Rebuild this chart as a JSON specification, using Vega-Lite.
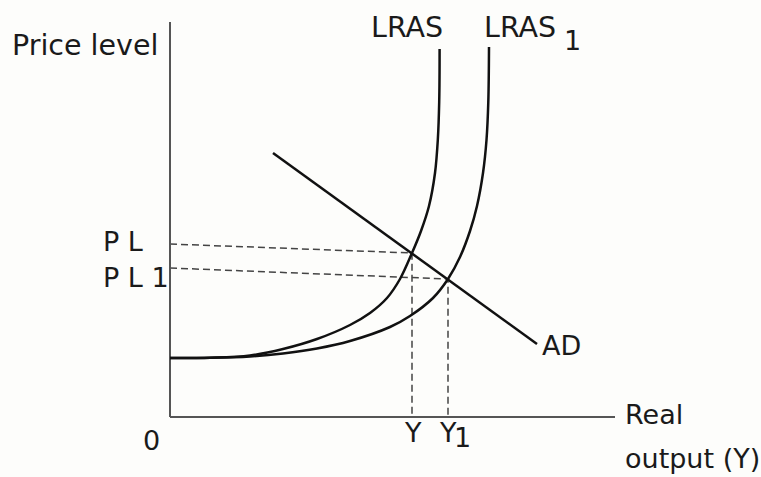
{
  "$schema": "https://vega.github.io/schema/vega-lite/v6.json",
  "width": 761,
  "height": 477,
  "autosize": {"type": "fit", "contains": "padding"},
  "padding": 0,
  "background": "#fdfdfb",
  "config": {"view": {"stroke": null}},
  "datasets": {
    "lines": [
      {"series": "yaxis", "ord": 0, "x": 0, "y": 0},
      {"series": "yaxis", "ord": 1, "x": 0, "y": 395},
      {"series": "xaxis", "ord": 0, "x": 0, "y": 0},
      {"series": "xaxis", "ord": 1, "x": 445, "y": 0},
      {"series": "AD", "ord": 0, "x": 103, "y": 264},
      {"series": "AD", "ord": 1, "x": 367, "y": 73},
      {"series": "LRAS", "ord": 0, "x": 0, "y": 59},
      {"series": "LRAS", "ord": 1, "x": 40, "y": 59.3},
      {"series": "LRAS", "ord": 2, "x": 80, "y": 61.5},
      {"series": "LRAS", "ord": 3, "x": 113, "y": 68},
      {"series": "LRAS", "ord": 4, "x": 147, "y": 78},
      {"series": "LRAS", "ord": 5, "x": 180, "y": 92},
      {"series": "LRAS", "ord": 6, "x": 200, "y": 104},
      {"series": "LRAS", "ord": 7, "x": 217, "y": 119},
      {"series": "LRAS", "ord": 8, "x": 230, "y": 138},
      {"series": "LRAS", "ord": 9, "x": 242, "y": 164},
      {"series": "LRAS", "ord": 10, "x": 251, "y": 186},
      {"series": "LRAS", "ord": 11, "x": 259, "y": 211},
      {"series": "LRAS", "ord": 12, "x": 265, "y": 244},
      {"series": "LRAS", "ord": 13, "x": 267.8, "y": 277},
      {"series": "LRAS", "ord": 14, "x": 269.2, "y": 315},
      {"series": "LRAS", "ord": 15, "x": 269.6, "y": 368},
      {"series": "LRAS1", "ord": 0, "x": 0, "y": 59},
      {"series": "LRAS1", "ord": 1, "x": 40, "y": 59.2},
      {"series": "LRAS1", "ord": 2, "x": 80, "y": 60.5},
      {"series": "LRAS1", "ord": 3, "x": 113, "y": 63.5},
      {"series": "LRAS1", "ord": 4, "x": 147, "y": 68.5},
      {"series": "LRAS1", "ord": 5, "x": 180, "y": 76},
      {"series": "LRAS1", "ord": 6, "x": 220, "y": 90},
      {"series": "LRAS1", "ord": 7, "x": 240, "y": 101},
      {"series": "LRAS1", "ord": 8, "x": 263, "y": 119},
      {"series": "LRAS1", "ord": 9, "x": 278, "y": 138},
      {"series": "LRAS1", "ord": 10, "x": 290, "y": 160},
      {"series": "LRAS1", "ord": 11, "x": 300, "y": 186},
      {"series": "LRAS1", "ord": 12, "x": 307, "y": 211},
      {"series": "LRAS1", "ord": 13, "x": 313, "y": 244},
      {"series": "LRAS1", "ord": 14, "x": 316.5, "y": 277},
      {"series": "LRAS1", "ord": 15, "x": 318.3, "y": 315},
      {"series": "LRAS1", "ord": 16, "x": 319, "y": 370},
      {"series": "PLguide", "ord": 0, "x": 0, "y": 173},
      {"series": "PLguide", "ord": 1, "x": 242, "y": 164},
      {"series": "PLguide", "ord": 2, "x": 242, "y": 0},
      {"series": "PL1guide", "ord": 0, "x": 0, "y": 149},
      {"series": "PL1guide", "ord": 1, "x": 278, "y": 138},
      {"series": "PL1guide", "ord": 2, "x": 278, "y": 0}
    ],
    "bigLabels": [
      {"text": "Price level", "x": -158, "y": 362},
      {"text": "LRAS", "x": 201, "y": 380},
      {"text": "LRAS", "x": 314, "y": 380}
    ],
    "labels": [
      {"text": "1", "x": 394, "y": 367},
      {"text": "P L", "x": -67, "y": 166},
      {"text": "P L 1", "x": -67, "y": 130},
      {"text": "0", "x": -27, "y": -33},
      {"text": "Y", "x": 235, "y": -25},
      {"text": "Y", "x": 270, "y": -25},
      {"text": "1", "x": 284, "y": -30},
      {"text": "AD", "x": 372, "y": 62},
      {"text": "Real", "x": 455, "y": -7},
      {"text": "output (Y)", "x": 455, "y": -51}
    ]
  },
  "encoding": {
    "x": {"field": "x", "type": "quantitative", "scale": {"domain": [-170, 591], "nice": false, "zero": false}, "axis": null},
    "y": {"field": "y", "type": "quantitative", "scale": {"domain": [-60, 417], "nice": false, "zero": false}, "axis": null}
  },
  "layer": [
    {
      "data": {"name": "lines"},
      "transform": [{"filter": "datum.series === 'PLguide' || datum.series === 'PL1guide'"}],
      "mark": {"type": "line", "color": "#444", "strokeWidth": 1.5, "strokeDash": [7, 4]},
      "encoding": {"detail": {"field": "series"}, "order": {"field": "ord"}}
    },
    {
      "data": {"name": "lines"},
      "transform": [{"filter": "datum.series === 'xaxis' || datum.series === 'yaxis'"}],
      "mark": {"type": "line", "color": "#555", "strokeWidth": 2},
      "encoding": {"detail": {"field": "series"}, "order": {"field": "ord"}}
    },
    {
      "data": {"name": "lines"},
      "transform": [{"filter": "datum.series === 'AD'"}],
      "mark": {"type": "line", "color": "#111", "strokeWidth": 2.5},
      "encoding": {"detail": {"field": "series"}, "order": {"field": "ord"}}
    },
    {
      "data": {"name": "lines"},
      "transform": [{"filter": "datum.series === 'LRAS' || datum.series === 'LRAS1'"}],
      "mark": {"type": "line", "color": "#111", "strokeWidth": 2.5, "interpolate": "catmull-rom"},
      "encoding": {"detail": {"field": "series"}, "order": {"field": "ord"}}
    },
    {
      "data": {"name": "bigLabels"},
      "mark": {"type": "text", "align": "left", "baseline": "alphabetic", "font": "DejaVu Sans", "fontSize": 28.5, "color": "#1a1a1a"},
      "encoding": {"text": {"field": "text"}}
    },
    {
      "data": {"name": "labels"},
      "mark": {"type": "text", "align": "left", "baseline": "alphabetic", "font": "DejaVu Sans", "fontSize": 27, "color": "#1a1a1a"},
      "encoding": {"text": {"field": "text"}}
    }
  ]
}
